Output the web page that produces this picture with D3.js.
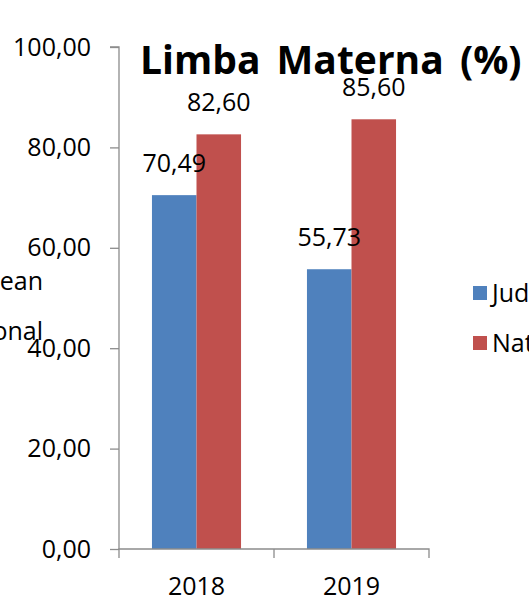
<!DOCTYPE html>
<html>
<head>
<meta charset="utf-8">
<script src="https://cdn.jsdelivr.net/npm/d3@7"></script>
<style>
  body { margin: 0; background: #fff; overflow: hidden; }
  text { font-family: "Open Sans", "Noto Sans", sans-serif; }
</style>
</head>
<body>
<svg width="529" height="600"></svg>
<script>
// chart data
const years = ['2018', '2019'];
const seriesNames = ['Judetean', 'National'];
const judetean = [70.49, 55.73];
const national = [82.60, 85.60];
const yTicks = [0, 20, 40, 60, 80, 100];
const colors = ['#4f81bd', '#c0504d'];

const svg = d3.select('svg');
const fmt = v => d3.format('.2f')(v).replace('.', ',');

const plotLeft = 119, plotRight = 429, plotTop = 47, plotBottom = 549;

const x = d3.scaleBand().domain(years).range([plotLeft, plotRight]);
const inner = d3.scaleBand().domain(seriesNames).range([0, x.bandwidth()]).paddingInner(0).paddingOuter(0.74);
const y = d3.scaleLinear().domain([0, 100]).range([plotBottom, plotTop]);

const series = [judetean, national];

// bars
seriesNames.forEach((name, si) => {
  svg.append('g').selectAll('rect')
    .data(years)
    .join('rect')
      .attr('x', (d) => x(d) + inner(name))
      .attr('y', (d, i) => y(series[si][i]))
      .attr('width', inner.bandwidth())
      .attr('height', (d, i) => y(0) - y(series[si][i]))
      .attr('fill', colors[si]);
});

// y axis
const yAxis = svg.append('g')
  .attr('transform', `translate(${plotLeft},0)`)
  .call(d3.axisLeft(y).tickValues(yTicks).tickFormat(fmt).tickSize(9).tickPadding(19));
yAxis.selectAll('path, line').attr('stroke', '#8c8c8c').attr('stroke-width', 1.3);
yAxis.select('.domain').attr('d', `M-9,${plotTop}H0V${plotBottom}`);
yAxis.selectAll('text').attr('font-size', 25).attr('fill', '#000')
  .attr('font-family', '"Open Sans", "Noto Sans", sans-serif');

// x axis with ticks at band boundaries
const xg = svg.append('g').attr('transform', `translate(0,${plotBottom})`);
xg.append('path')
  .attr('d', `M${plotLeft},9V0H${plotRight}V9`)
  .attr('fill', 'none').attr('stroke', '#8c8c8c').attr('stroke-width', 1.3);
xg.selectAll('line.mid')
  .data(years.slice(1))
  .join('line')
    .attr('x1', d => x(d)).attr('x2', d => x(d))
    .attr('y1', 0).attr('y2', 9)
    .attr('stroke', '#8c8c8c').attr('stroke-width', 1.3);
xg.selectAll('text')
  .data(years)
  .join('text')
    .attr('x', d => x(d) + x.bandwidth() / 2)
    .attr('y', 46)
    .attr('text-anchor', 'middle')
    .attr('font-size', 25)
    .text(d => d);

// title
svg.append('text')
  .attr('x', 140).attr('y', 74)
  .attr('font-size', 39).attr('font-weight', 'bold')
  .attr('word-spacing', 6)
  .text('Limba Materna (%)');

// value labels
seriesNames.forEach((name, si) => {
  svg.append('g').selectAll('text')
    .data(years)
    .join('text')
      .attr('x', d => x(d) + inner(name) + inner.bandwidth() / 2)
      .attr('y', (d, i) => y(series[si][i]) - 23)
      .attr('text-anchor', 'middle')
      .attr('font-size', 25)
      .text((d, i) => fmt(series[si][i]));
});

// legend (clipped on the right)
const legend = svg.append('g').attr('transform', 'translate(473,286)');
seriesNames.forEach((name, i) => {
  legend.append('rect')
    .attr('x', 0).attr('y', i * 50)
    .attr('width', 14).attr('height', 14)
    .attr('fill', colors[i]);
  legend.append('text')
    .attr('x', 19).attr('y', i * 50 + 16)
    .attr('font-size', 25)
    .text(name);
});

// leftover legend text at the left edge
const ghost = svg.append('g');
seriesNames.forEach((name, i) => {
  ghost.append('text')
    .attr('x', 43).attr('y', 290 + i * 50)
    .attr('text-anchor', 'end')
    .attr('font-size', 25)
    .text(name);
});
</script>
</body>
</html>
